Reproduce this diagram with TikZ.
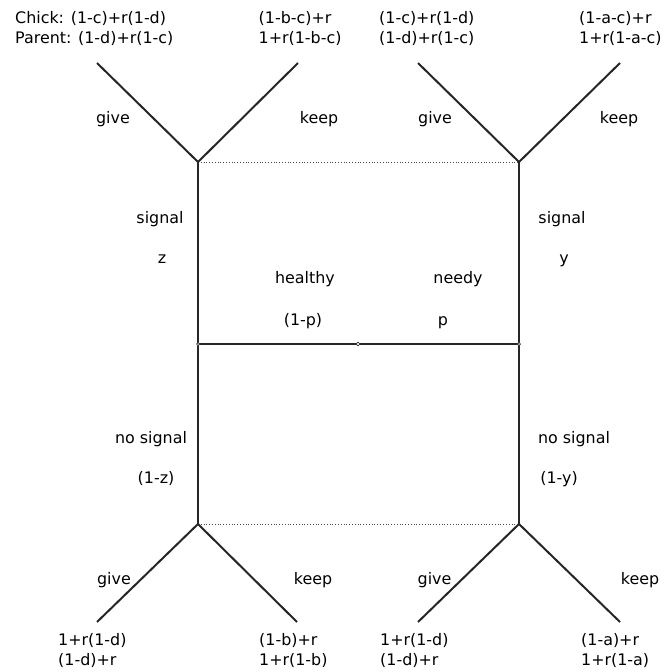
\documentclass[tikz,border=0pt]{standalone}
\usepackage{fontspec}
\setmainfont{DejaVu Sans}
\begin{document}
\begin{tikzpicture}[x=1pt,y=-1pt,
  edge/.style={line width=2pt,draw=black!85},
  info/.style={line width=0.8pt,dotted,draw=black!70},
  lbl/.style={anchor=mid,inner sep=0pt,yshift=-1.5pt},
  pay/.style={anchor=base west,align=left,inner sep=0pt},
  dotnode/.style={circle,draw=black!80,fill=white,line width=0.7pt,inner sep=0pt,minimum size=3.6pt}]
\useasboundingbox (0,0) rectangle (670,672);
\fontsize{15.9}{20}\selectfont
% decision points
\coordinate (TL) at (198,162);
\coordinate (TR) at (519,162);
\coordinate (BL) at (198,524);
\coordinate (BR) at (519,524);
\coordinate (ML) at (198,344);
\coordinate (MR) at (519,344);
\coordinate (C) at (358,344);
% ends
\coordinate (a1) at (97,63);
\coordinate (a2) at (298,63);
\coordinate (a3) at (418,63);
\coordinate (a4) at (620,63);
\coordinate (b1) at (97,622);
\coordinate (b2) at (297,622);
\coordinate (b3) at (418,622);
\coordinate (b4) at (620,622);
% information sets
\draw[info] (TL) -- (TR);
\draw[info] (BL) -- (BR);
% edges
\draw[edge] (TL) -- (BL);
\draw[edge] (TR) -- (BR);
\draw[edge] (ML) -- (MR);
\draw[edge] (a1) -- (TL) -- (a2);
\draw[edge] (a3) -- (TR) -- (a4);
\draw[edge] (b1) -- (BL) -- (b2);
\draw[edge] (b3) -- (BR) -- (b4);
\node[dotnode] (cn) at (C) {};
\node[dotnode,minimum size=3pt] (mln) at (ML) {};
\node[dotnode,minimum size=3pt] (mrn) at (MR) {};
% labels
\node[lbl] (g1) at (113,118) {give};
\node[lbl] (k1) at (319,118) {keep};
\node[lbl] (g2) at (435,118) {give};
\node[lbl] (k2) at (619,118) {keep};
\node[lbl] (g3) at (114,579) {give};
\node[lbl] (k3) at (313,579) {keep};
\node[lbl] (g4) at (434.5,579) {give};
\node[lbl] (k4) at (640,579) {keep};
\node[lbl] (s1) at (160,218) {signal};
\node[lbl] (z1) at (162,258) {z};
\node[lbl] (s2) at (562,218) {signal};
\node[lbl] (y1) at (564,258) {y};
\node[lbl] (h) at (305,278) {healthy};
\node[lbl] (hp) at (303,320) {(1-p)};
\node[lbl] (n) at (458,278) {needy};
\node[lbl] (np) at (443,320) {p};
\node[lbl] (ns1) at (151,438) {no signal};
\node[lbl] (nz) at (156,478) {(1-z)};
\node[lbl] (ns2) at (574,438) {no signal};
\node[lbl] (ny) at (559,478) {(1-y)};
% payoffs (base = baseline of last line)
\node[pay] (p1) at (15,43.5) {Chick: (1-c)+r(1-d)\\Parent: (1-d)+r(1-c)};
\node[pay] (p2) at (258.5,43.5) {(1-b-c)+r\\1+r(1-b-c)};
\node[pay] (p3) at (379,43.5) {(1-c)+r(1-d)\\(1-d)+r(1-c)};
\node[pay] (p4) at (579,43.5) {(1-a-c)+r\\1+r(1-a-c)};
\node[pay] (q1) at (58,665.5) {1+r(1-d)\\(1-d)+r};
\node[pay] (q2) at (259,665.5) {(1-b)+r\\1+r(1-b)};
\node[pay] (q3) at (380,665.5) {1+r(1-d)\\(1-d)+r};
\node[pay] (q4) at (581,665.5) {(1-a)+r\\1+r(1-a)};
\end{tikzpicture}
\end{document}
